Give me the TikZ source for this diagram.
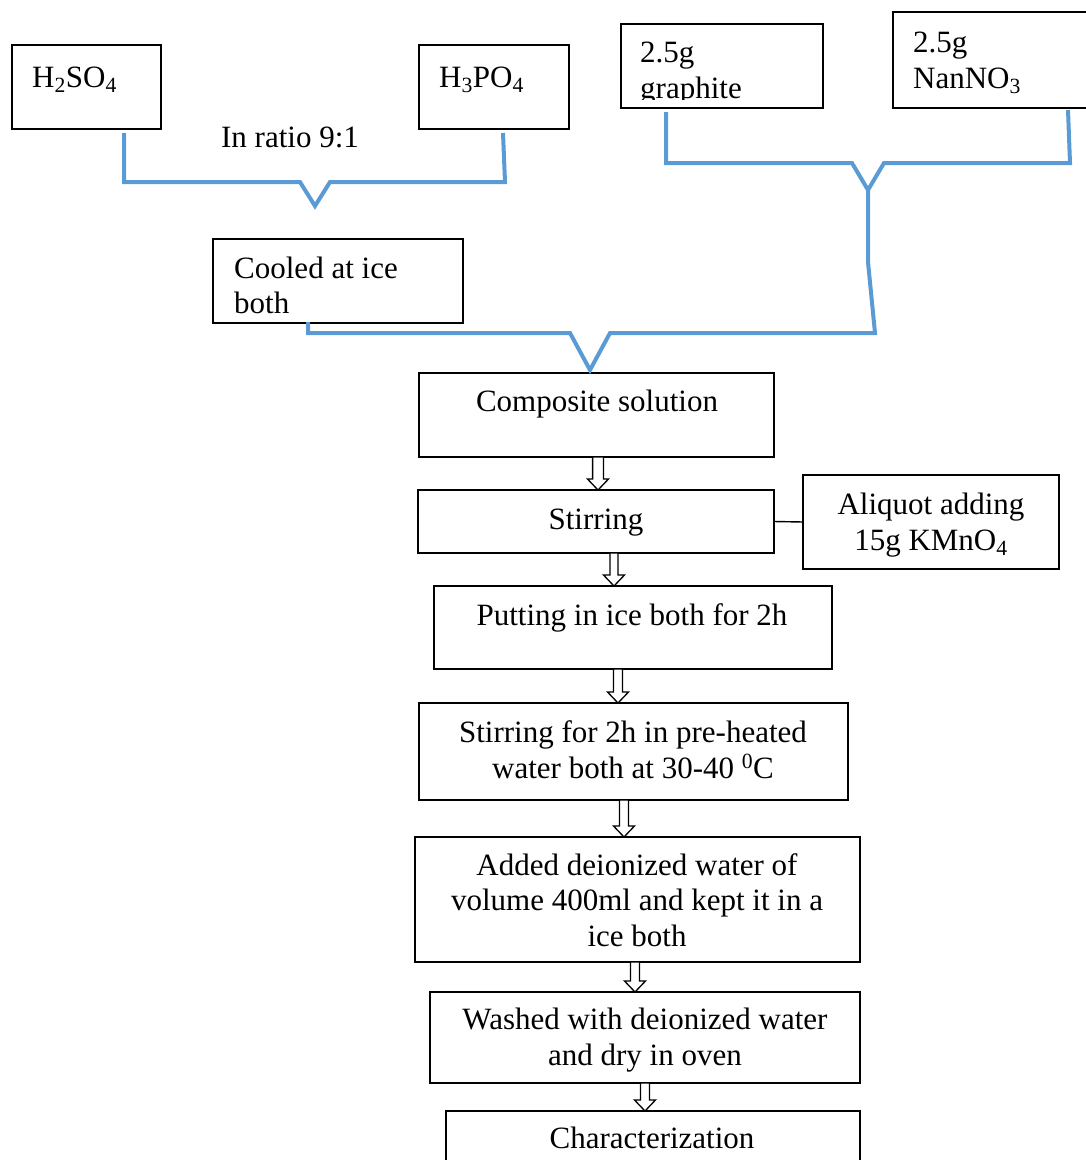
\documentclass[tikz,border=0pt]{standalone}
\usepackage{fontspec}
\setmainfont{Liberation Serif}
\usetikzlibrary{calc}
\definecolor{bline}{RGB}{91,155,213}
\newcommand\harrow[4]{%
  \coordinate (hx) at (#3,0);
  \coordinate (hs) at (#1.south -| hx);
  \coordinate (he) at (#2.north -| hx);
  \draw[harrowline] let \p1=(hs), \p2=(he) in
    (\x1-#4*4.5pt,\y1) -- (\x1+#4*4.5pt,\y1) -- (\x1+#4*4.5pt,\y2+11pt)
    -- (\x1+10.5pt,\y2+11pt) -- (\x1,\y2) -- (\x1-10.5pt,\y2+11pt)
    -- (\x1-#4*4.5pt,\y2+11pt) -- cycle;
}
\begin{document}
\begin{tikzpicture}[x=1pt,y=-1pt,
  box/.style={draw,line width=1.4pt,inner sep=0pt,outer sep=0pt,anchor=north west},
  txt/.style={inner sep=0pt,anchor=base,font=\fontsize{31}{36}\selectfont},
  ltxt/.style={txt,anchor=base west},
  blue/.style={draw=bline,line width=4pt,line join=miter},
  harrowline/.style={draw,line width=1.3pt,fill=white}]
\useasboundingbox (0,0) rectangle (1086,1160);
% top boxes
\node[box,minimum width=149,minimum height=84] (h2) at (12,45) {};
\node[ltxt] (h2t) at (32,87) {H\textsubscript{2}SO\textsubscript{4}};
\node[box,minimum width=150,minimum height=84] (h3) at (419,45) {};
\node[ltxt] (h3t) at (439,87) {H\textsubscript{3}PO\textsubscript{4}};
\node[txt] (ratio) at (290,147) {In ratio 9:1};
\node[box,minimum width=202,minimum height=84] (gr) at (621,24) {};
\node[ltxt] (grt1) at (640,62) {2.5g};
\begin{scope}
\clip (622,25) rectangle (822,99);
\node[ltxt] (grt2) at (640,98) {graphite};
\end{scope}
\node[box,minimum width=200,minimum height=96] (na) at (893,12) {};
\node[ltxt] (nat1) at (913,52) {2.5g};
\node[ltxt] (nat2) at (913,88) {NanNO\textsubscript{3}};
\node[box,minimum width=250,minimum height=84] (cool) at (213,239) {};
\node[ltxt] (coolt1) at (234,278) {Cooled at ice};
\node[ltxt] (coolt2) at (234,313) {both};
% main column
\node[box,minimum width=355,minimum height=84] (comp) at (419,373) {};
\node[txt] (compt) at (597,411) {Composite solution};
\node[box,minimum width=356,minimum height=63] (stir) at (418,490) {};
\node[txt] (stirt) at (596,529) {Stirring};
\node[box,minimum width=256,minimum height=94] (aliq) at (803,475) {};
\node[txt] (aliqt1) at (931,514) {Aliquot adding};
\node[txt] (aliqt2) at (931,550) {15g KMnO\textsubscript{4}};
\node[box,minimum width=398,minimum height=83] (put) at (434,586) {};
\node[txt] (putt) at (632,625) {Putting in ice both for 2h};
\node[box,minimum width=429,minimum height=97] (heat) at (419,703) {};
\node[txt] (heatt1) at (633,742) {Stirring for 2h in pre-heated};
\node[txt] (heatt2) at (633,778) {water both at 30-40 \textsuperscript{0}C};
\node[box,minimum width=445,minimum height=125] (add) at (415,837) {};
\node[txt] (addt1) at (637,875) {Added deionized water of};
\node[txt] (addt2) at (637,910) {volume 400ml and kept it in a};
\node[txt] (addt3) at (637,946) {ice both};
\node[box,minimum width=430,minimum height=91] (wash) at (430,992) {};
\node[txt] (washt1) at (645,1029) {Washed with deionized water};
\node[txt] (washt2) at (645,1065) {and dry in oven};
\node[box,minimum width=414,minimum height=70] (char) at (446,1111) {};
\node[txt] (chart) at (652,1148) {Characterization};
% blue brackets
\coordinate (v1) at (315,206);
\draw[blue] ($(h2.south west)+(112,4)$) -- (124,182) -- (300,182) -- (v1)
  -- (330,182) -- (505,182) -- ($(h3.south west)+(84,4)$);
\coordinate (v2) at (868,190);
\draw[blue] ($(gr.south west)+(45,4)$) -- (666,163) -- (852,163) -- (v2)
  -- (884,163) -- (1070,163) -- ($(na.south west)+(175,2)$);
\draw[blue] (v2) -- (868,262) -- (875,333) -- (610,333)
  -- ($(comp.north west)+(171,-3)$) -- (570,333) -- (308,333) -- ($(cool.south west)+(95,-1)$);
% flow arrows
\harrow{comp}{stir}{598}{1.2}
\harrow{stir}{put}{614}{0.9}
\harrow{put}{heat}{618}{1}
\harrow{heat}{add}{624}{1}
\harrow{add}{wash}{635}{1}
\harrow{wash}{char}{645}{1}
\draw[line width=1.4pt] (stir.east) -- (aliq.west);
\end{tikzpicture}
\end{document}
